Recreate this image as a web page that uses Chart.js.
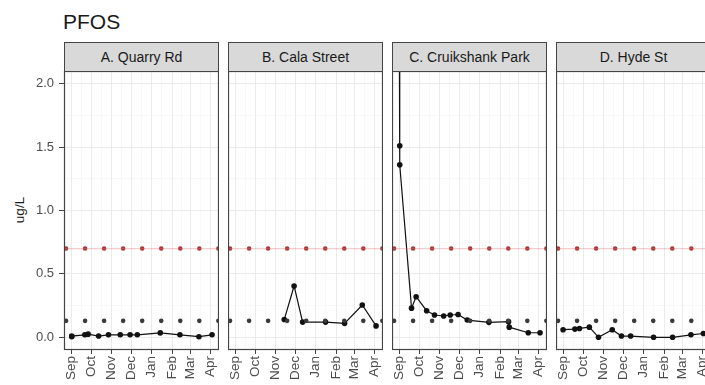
<!DOCTYPE html>
<html>
<head>
<meta charset="utf-8">
<script src="https://cdn.jsdelivr.net/npm/chart.js@4/dist/chart.umd.min.js"></script>
<style>
  html, body { margin: 0; padding: 0; background: #fff; }
  body { width: 705px; height: 385px; position: relative; overflow: hidden;
         font-family: "Liberation Sans", Arial, sans-serif; }
  .title { position: absolute; left: 63px; top: 10px; font-size: 21px; color: #1a1a1a; }
  .ylab { position: absolute; left: 19px; top: 210px; font-size: 13.5px; color: #1a1a1a;
          transform: translate(-50%, -50%) rotate(-90deg); white-space: nowrap; }
  .strip { position: absolute; top: 42px; width: 155px; height: 30px; box-sizing: border-box;
           background: #d9d9d9; border: 1px solid #444; font-size: 14px; color: #1a1a1a;
           display: flex; align-items: center; justify-content: center; white-space: nowrap; }
  canvas { position: absolute; top: 71px; }
</style>
</head>
<body>
<div class="title">PFOS</div>
<div class="ylab">ug/L</div>

<div class="strip" style="left:64px">A. Quarry Rd</div>
<div class="strip" style="left:228px">B. Cala Street</div>
<div class="strip" style="left:392px">C. Cruikshank Park</div>
<div class="strip" style="left:556px">D. Hyde St</div>

<canvas id="pA" width="189" height="314" style="left:30px"></canvas>
<canvas id="pB" width="155" height="314" style="left:228px"></canvas>
<canvas id="pC" width="155" height="314" style="left:392px"></canvas>
<canvas id="pD" width="155" height="314" style="left:556px"></canvas>

<script>
// Sampling dates and PFOS concentrations (ug/L) per site
const siteA_dates  = ['2017-09-01','2017-09-01','2017-09-21','2017-09-26','2017-10-12','2017-10-27','2017-11-14','2017-11-29','2017-12-10','2018-01-14','2018-02-13','2018-03-14','2018-04-03'];
const siteA_values = [0.005, 0.01, 0.02, 0.025, 0.01, 0.02, 0.02, 0.02, 0.02, 0.035, 0.02, 0.005, 0.02];

const siteB_dates  = ['2017-11-14','2017-11-29','2017-12-12','2018-01-16','2018-02-14','2018-03-13','2018-04-03'];
const siteB_values = [0.14, 0.405, 0.12, 0.12, 0.11, 0.255, 0.09];

const siteC_dates  = ['2017-08-31','2017-09-01','2017-09-01','2017-09-19','2017-09-26','2017-10-12','2017-10-24','2017-11-07','2017-11-17','2017-11-29','2017-12-13','2018-01-15','2018-02-14','2018-02-15','2018-03-16','2018-04-03'];
const siteC_values = [3.0, 1.51, 1.36, 0.23, 0.32, 0.21, 0.176, 0.168, 0.176, 0.18, 0.136, 0.118, 0.123, 0.08, 0.036, 0.036];

const siteD_dates  = ['2017-08-31','2017-09-18','2017-09-25','2017-10-10','2017-10-24','2017-11-14','2017-11-28','2017-12-12','2018-01-16','2018-02-14','2018-03-14','2018-04-02'];
const siteD_values = [0.06, 0.065, 0.07, 0.08, 0.0, 0.06, 0.01, 0.01, 0.0, 0.0, 0.02, 0.03];

// Guideline values (ug/L)
const upperGuideline = 0.7;
const lowerGuideline = 0.13;

// Axis breaks
const monthLabels = ['Sep','Oct','Nov','Dec','Jan','Feb','Mar','Apr'];
const monthStarts = ['2017-09-01','2017-10-01','2017-11-01','2017-12-01','2018-01-01','2018-02-01','2018-03-01','2018-04-01'];
const yMajorTicks = [0, 0.5, 1.0, 1.5, 2.0];
const yMinorTicks = [0.25, 0.75, 1.25, 1.75];

// Dates are plotted as days from the season start
const ORIGIN = Date.UTC(2017, 8, 1);
const toDay = s => { const [y, m, d] = s.split('-').map(Number); return (Date.UTC(y, m - 1, d) - ORIGIN) / 86400000; };
const monthDays = monthStarts.map(toDay);
const midMonthDays = monthDays.slice(0, -1).map((d, i) => (d + monthDays[i + 1]) / 2);
const X_MIN = -11.8, X_MAX = 224.6;
const Y_MIN = -0.1, Y_MAX = 2.1;

const FONT = '"Liberation Sans", Arial, sans-serif';
const isMajorX = v => monthDays.some(d => Math.abs(d - v) < 1e-6);
const isMajorY = v => yMajorTicks.some(d => Math.abs(d - v) < 1e-6);

// Fixed axis sizes so every panel has the same plotting area
function fixAxis(scale, size) {
  if (scale.isHorizontal()) scale.height = size; else scale.width = size;
  scale.paddingTop = scale.paddingBottom = scale.paddingLeft = scale.paddingRight = 0;
}

const panelFrame = {
  id: 'panelFrame',
  afterDatasetsDraw(chart) {
    const { ctx, chartArea: a } = chart;
    ctx.save();
    ctx.strokeStyle = '#444';
    ctx.lineWidth = 1.2;
    ctx.strokeRect(a.left + 0.5, a.top + 0.5, a.width - 1, a.height - 1);
    ctx.restore();
  }
};

function hline(value) {
  return [{ x: X_MIN, y: value }, { x: X_MAX, y: value }];
}

function makePanel(id, dates, values, showY) {
  const points = dates.map((d, i) => ({ x: toDay(d), y: values[i] }));
  new Chart(document.getElementById(id), {
    type: 'line',
    data: {
      datasets: [
        { data: hline(upperGuideline), borderColor: 'rgba(235,110,110,0.35)', borderWidth: 1.2,
          pointRadius: 0 },
        { data: hline(upperGuideline), borderColor: '#a83639', borderWidth: 4.6,
          borderDash: [0, 19.04], borderDashOffset: 17.0, borderCapStyle: 'round', pointRadius: 0 },
        { data: hline(lowerGuideline), borderColor: '#3a3a3a', borderWidth: 4.6,
          borderDash: [0, 19.04], borderDashOffset: 17.0, borderCapStyle: 'round', pointRadius: 0 },
        { data: points, borderColor: '#111', borderWidth: 1.2, tension: 0,
          pointRadius: 2.8, pointBackgroundColor: '#111', pointBorderWidth: 0 }
      ]
    },
    options: {
      responsive: false,
      animation: false,
      devicePixelRatio: 1,
      layout: { padding: 0, autoPadding: false },
      plugins: { legend: { display: false }, tooltip: { enabled: false } },
      scales: {
        x: {
          type: 'linear', min: X_MIN, max: X_MAX,
          afterBuildTicks: s => { s.ticks = monthDays.concat(midMonthDays).sort((a, b) => a - b).map(v => ({ value: v })); },
          afterFit: s => fixAxis(s, 35),
          ticks: {
            autoSkip: false, minRotation: 90, maxRotation: 90, padding: 2,
            color: '#4d4d4d', font: { family: FONT, size: 13.5 },
            callback: v => { const i = monthDays.findIndex(d => Math.abs(d - v) < 1e-6); return i >= 0 ? monthLabels[i] : ''; }
          },
          grid: {
            color: c => isMajorX(c.tick.value) ? '#ebebeb' : '#f4f4f4',
            lineWidth: c => isMajorX(c.tick.value) ? 1 : 0.6,
            tickLength: 4,
            tickColor: c => isMajorX(c.tick.value) ? '#444' : 'rgba(0,0,0,0)'
          },
          border: { display: false }
        },
        y: {
          type: 'linear', min: Y_MIN, max: Y_MAX,
          afterBuildTicks: s => { s.ticks = yMajorTicks.concat(yMinorTicks).sort((a, b) => a - b).map(v => ({ value: v })); },
          afterFit: s => fixAxis(s, showY ? 34 : 0),
          ticks: {
            display: showY, padding: 5, color: '#4d4d4d', font: { family: FONT, size: 13 },
            callback: v => isMajorY(v) ? v.toFixed(1) : ''
          },
          grid: {
            color: c => isMajorY(c.tick.value) ? '#ebebeb' : '#f4f4f4',
            lineWidth: c => isMajorY(c.tick.value) ? 1 : 0.6,
            drawTicks: showY, tickLength: 5,
            tickColor: c => isMajorY(c.tick.value) ? '#444' : 'rgba(0,0,0,0)'
          },
          border: { display: false }
        }
      }
    },
    plugins: [panelFrame]
  });
}

makePanel('pA', siteA_dates, siteA_values, true);
makePanel('pB', siteB_dates, siteB_values, false);
makePanel('pC', siteC_dates, siteC_values, false);
makePanel('pD', siteD_dates, siteD_values, false);
</script>
</body>
</html>
